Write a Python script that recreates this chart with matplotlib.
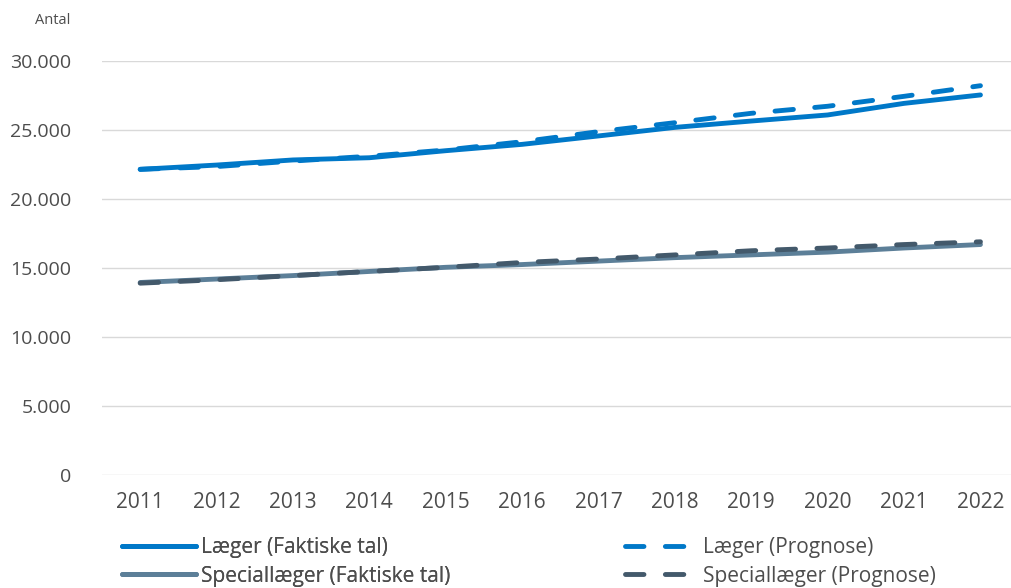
import matplotlib
matplotlib.use('Agg')
import matplotlib.pyplot as plt
from matplotlib.ticker import FuncFormatter

plt.rcParams['font.family'] = ['Open Sans', 'DejaVu Sans']

years = [2011, 2012, 2013, 2014, 2015, 2016, 2017, 2018, 2019, 2020, 2021, 2022]
laeger_faktisk = [22150, 22460, 22830, 22990, 23500, 23960, 24570, 25190, 25650, 26090, 26930, 27540]
laeger_prognose = [22150, 22350, 22750, 23100, 23550, 24150, 24880, 25530, 26210, 26720, 27440, 28210]
spec_faktisk = [13950, 14200, 14450, 14750, 15050, 15250, 15500, 15750, 15950, 16150, 16450, 16700]
spec_prognose = [13900, 14150, 14450, 14750, 15050, 15400, 15650, 15950, 16250, 16450, 16700, 16900]

fig = plt.figure(figsize=(10.11, 5.88), dpi=100)
ax = fig.add_axes([102/1011, 1 - 475/588, 1 - 102/1011, (475 - 61)/588])

blue = '#0078C8'
grey = '#5C7F98'
dark = '#43596B'
txt = '#4D4D4D'
lw = 3.5
fs = 15

l1, = ax.plot(years, laeger_faktisk, color=blue, lw=lw, solid_capstyle='round')
l2, = ax.plot(years, laeger_prognose, color=blue, lw=lw, dashes=(3.8, 4.4), dash_capstyle='round')
l3, = ax.plot(years, spec_faktisk, color=grey, lw=lw, solid_capstyle='round')
l4, = ax.plot(years, spec_prognose, color=dark, lw=lw, dashes=(3.8, 4.4), dash_capstyle='round')

ax.set_ylim(0, 30000)
ax.set_yticks(range(0, 30001, 5000))
ax.yaxis.set_major_formatter(FuncFormatter(lambda v, p: f'{int(v):,}'.replace(',', '.')))
ax.set_xlim(2010.5, 2022.4)
ax.set_xticks(years)
ax.grid(axis='y', color='#D9D9D9', lw=1)
ax.set_axisbelow(True)
for s in ax.spines.values():
    s.set_visible(False)
ax.tick_params(length=0, colors=txt)
ax.tick_params(axis='y', pad=22, labelsize=14)
ax.tick_params(axis='x', pad=12, labelsize=fs)

fig.text(35/1011, 1 - 20/588, 'Antal', fontsize=10.5, color=txt, va='center')

# two legend columns, placed separately
leg1 = fig.legend([l1, l3], ['Læger (Faktiske tal)', 'Speciallæger (Faktiske tal)'],
                  loc='center left', bbox_to_anchor=(122/1011, 1 - 562/588),
                  frameon=False, fontsize=fs, handlelength=3.55, handletextpad=0.25,
                  labelspacing=0.35, borderpad=0, borderaxespad=0)
leg2 = fig.legend([l2, l4], ['Læger (Prognose)', 'Speciallæger (Prognose)'],
                  loc='center left', bbox_to_anchor=(625/1011, 1 - 562/588),
                  frameon=False, fontsize=fs, handlelength=3.05, handletextpad=0.7,
                  labelspacing=0.35, borderpad=0, borderaxespad=0)
fig.add_artist(leg1)
for leg in (leg1, leg2):
    for t in leg.get_texts():
        t.set_color(txt)

fig.savefig('out.png', dpi=100)
